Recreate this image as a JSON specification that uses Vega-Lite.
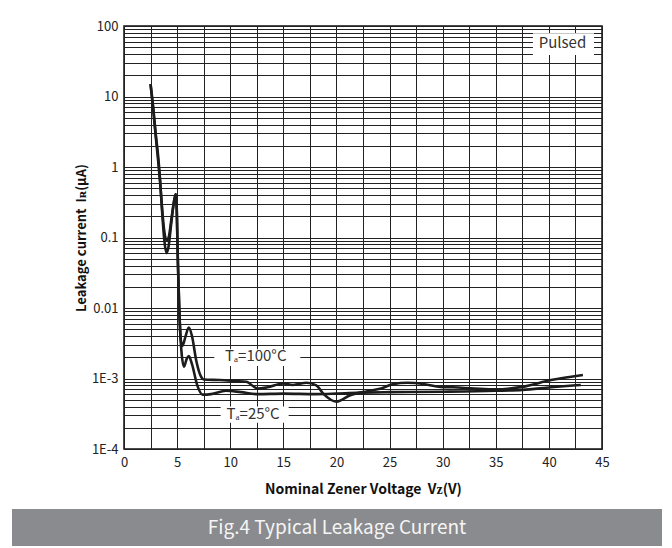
{
  "$schema": "https://vega.github.io/schema/vega-lite/v6.json",
  "padding": {"left": 12, "right": 10, "top": 19, "bottom": 0},
  "background": "white",
  "spacing": 12,
  "config": {"font": "Noto Sans CJK SC", "view": {"stroke": null}},
  "vconcat": [
    {
      "spacing": 0,
      "hconcat": [
        {
          "width": 62,
          "height": 10,
          "data": {"values": []},
          "mark": "point"
        },
        {
          "width": 478,
          "height": 423,
          "view": {"stroke": "#111111", "strokeWidth": 1.5},
          "encoding": {
            "x": {
              "field": "x", "type": "quantitative",
              "scale": {"domain": [0, 45], "nice": false, "zero": false},
              "title": "Nominal Zener Voltage\u00a0 Vᴢ(V)",
              "axis": {
                "values": [0, 2.5, 5, 7.5, 10, 12.5, 15, 17.5, 20, 22.5, 25, 27.5, 30, 32.5, 35, 37.5, 40, 42.5, 45],
                "labelExpr": "datum.value % 5 === 0 ? datum.label : ''",
                "labelOverlap": false, "labelFlush": false,
                "grid": true, "gridColor": "#222222", "gridWidth": 1,
                "ticks": false, "domain": false,
                "labelFontSize": 13, "labelColor": "#222222", "labelPadding": 7,
                "titleFontSize": 14, "titleFontWeight": "bold", "titleColor": "#111111", "titlePadding": 13
              }
            },
            "y": {
              "field": "y", "type": "quantitative",
              "scale": {"type": "log", "domain": [0.0001, 100], "nice": false},
              "title": "Leakage current\u00a0 Iʀ(μA)",
              "axis": {
                "values": [0.0001, 0.0002, 0.0003, 0.0004, 0.0005, 0.0006, 0.0007, 0.0008, 0.0009, 0.001, 0.002, 0.003, 0.004, 0.005, 0.006, 0.007, 0.008, 0.009, 0.01, 0.02, 0.03, 0.04, 0.05, 0.06, 0.07, 0.08, 0.09, 0.1, 0.2, 0.3, 0.4, 0.5, 0.6, 0.7, 0.8, 0.9, 1, 2, 3, 4, 5, 6, 7, 8, 9, 10, 20, 30, 40, 50, 60, 70, 80, 90, 100],
                "labelExpr": "datum.value == 100 ? '100' : datum.value == 10 ? '10' : datum.value == 1 ? '1' : datum.value == 0.1 ? '0.1' : datum.value == 0.01 ? '0.01' : datum.value == 0.001 ? '1E-3' : datum.value == 0.0001 ? '1E-4' : ''",
                "labelOverlap": false, "labelFlush": false,
                "grid": true, "gridColor": "#222222", "gridWidth": 1,
                "ticks": false, "domain": false,
                "labelFontSize": 13, "labelColor": "#222222", "labelPadding": 6,
                "titleFontSize": 13, "titleFontWeight": "bold", "titleColor": "#111111", "titlePadding": 3
              }
            }
          },
          "layer": [
            {
              "data": {"values": [
                {"x": 38.5, "x2": 44.25, "y": 78.8, "y2": 38.8},
                {"x": 8.5, "x2": 16.6, "y": 0.0026, "y2": 0.0015},
                {"x": 9.1, "x2": 15.5, "y": 0.0004, "y2": 0.000236}
              ]},
              "mark": {"type": "rect", "fill": "white", "stroke": null},
              "encoding": {
                "x2": {"field": "x2"},
                "y2": {"field": "y2"}
              }
            },
            {
              "data": {"values": [
                {"x": 41.28, "y": 58, "t": "Pulsed"},
                {"x": 12.4, "y": 0.00209, "t": "Tₐ=100°C"},
                {"x": 12.15, "y": 0.00031, "t": "Tₐ=25°C"}
              ]},
              "mark": {"type": "text", "fontSize": 15, "color": "#333333", "baseline": "middle", "align": "center"},
              "encoding": {"text": {"field": "t"}}
            },
            {
              "data": {"values": [
                {"s": "100", "x": 2.5, "y": 15},
                {"s": "100", "x": 2.75, "y": 6.5},
                {"s": "100", "x": 3.0, "y": 2.6},
                {"s": "100", "x": 3.2, "y": 1.3},
                {"s": "100", "x": 3.4, "y": 0.6},
                {"s": "100", "x": 3.6, "y": 0.24},
                {"s": "100", "x": 3.8, "y": 0.12},
                {"s": "100", "x": 4.0, "y": 0.092},
                {"s": "100", "x": 4.2, "y": 0.1},
                {"s": "100", "x": 4.5, "y": 0.2},
                {"s": "100", "x": 4.75, "y": 0.35},
                {"s": "100", "x": 4.87, "y": 0.41},
                {"s": "100", "x": 4.98, "y": 0.2},
                {"s": "100", "x": 5.08, "y": 0.04},
                {"s": "100", "x": 5.2, "y": 0.01},
                {"s": "100", "x": 5.35, "y": 0.0035},
                {"s": "100", "x": 5.5, "y": 0.0029},
                {"s": "100", "x": 5.8, "y": 0.004},
                {"s": "100", "x": 6.1, "y": 0.0053},
                {"s": "100", "x": 6.4, "y": 0.004},
                {"s": "100", "x": 6.8, "y": 0.0018},
                {"s": "100", "x": 7.2, "y": 0.0011},
                {"s": "100", "x": 7.5, "y": 0.00097},
                {"s": "100", "x": 9.0, "y": 0.00095},
                {"s": "100", "x": 10.5, "y": 0.00092},
                {"s": "100", "x": 11.5, "y": 0.0009},
                {"s": "100", "x": 12.6, "y": 0.00072},
                {"s": "100", "x": 13.5, "y": 0.00075},
                {"s": "100", "x": 15.0, "y": 0.00085},
                {"s": "100", "x": 15.9, "y": 0.00081},
                {"s": "100", "x": 17.2, "y": 0.00087},
                {"s": "100", "x": 18.1, "y": 0.0008},
                {"s": "100", "x": 18.8, "y": 0.0006},
                {"s": "100", "x": 20.0, "y": 0.00047},
                {"s": "100", "x": 21.3, "y": 0.00058},
                {"s": "100", "x": 22.9, "y": 0.00066},
                {"s": "100", "x": 24.2, "y": 0.00072},
                {"s": "100", "x": 25.3, "y": 0.00083},
                {"s": "100", "x": 26.7, "y": 0.00087},
                {"s": "100", "x": 28.3, "y": 0.00083},
                {"s": "100", "x": 29.8, "y": 0.00076},
                {"s": "100", "x": 31.0, "y": 0.00075},
                {"s": "100", "x": 33.0, "y": 0.00072},
                {"s": "100", "x": 35.0, "y": 0.0007},
                {"s": "100", "x": 37.5, "y": 0.00076},
                {"s": "100", "x": 40.2, "y": 0.00095},
                {"s": "100", "x": 43.2, "y": 0.00112},
                {"s": "25", "x": 2.5, "y": 15},
                {"s": "25", "x": 2.75, "y": 7},
                {"s": "25", "x": 3.0, "y": 2.8},
                {"s": "25", "x": 3.2, "y": 1.5},
                {"s": "25", "x": 3.4, "y": 0.65},
                {"s": "25", "x": 3.6, "y": 0.22},
                {"s": "25", "x": 3.8, "y": 0.09},
                {"s": "25", "x": 4.0, "y": 0.06},
                {"s": "25", "x": 4.2, "y": 0.075},
                {"s": "25", "x": 4.45, "y": 0.16},
                {"s": "25", "x": 4.7, "y": 0.32},
                {"s": "25", "x": 4.87, "y": 0.41},
                {"s": "25", "x": 4.97, "y": 0.25},
                {"s": "25", "x": 5.05, "y": 0.06},
                {"s": "25", "x": 5.2, "y": 0.01},
                {"s": "25", "x": 5.4, "y": 0.0025},
                {"s": "25", "x": 5.65, "y": 0.00147},
                {"s": "25", "x": 5.9, "y": 0.0019},
                {"s": "25", "x": 6.1, "y": 0.00208},
                {"s": "25", "x": 6.4, "y": 0.0016},
                {"s": "25", "x": 6.9, "y": 0.0008},
                {"s": "25", "x": 7.4, "y": 0.00059},
                {"s": "25", "x": 8.2, "y": 0.0006},
                {"s": "25", "x": 9.6, "y": 0.00067},
                {"s": "25", "x": 11.0, "y": 0.00064},
                {"s": "25", "x": 12.6, "y": 0.0006},
                {"s": "25", "x": 15.0, "y": 0.00061},
                {"s": "25", "x": 18.0, "y": 0.0006},
                {"s": "25", "x": 20.0, "y": 0.00061},
                {"s": "25", "x": 22.5, "y": 0.00063},
                {"s": "25", "x": 25.0, "y": 0.00064},
                {"s": "25", "x": 30.0, "y": 0.00065},
                {"s": "25", "x": 35.0, "y": 0.00067},
                {"s": "25", "x": 37.5, "y": 0.00069},
                {"s": "25", "x": 40.2, "y": 0.00075},
                {"s": "25", "x": 43.0, "y": 0.00081}
              ]},
              "mark": {"type": "line", "interpolate": "monotone", "stroke": "#1c1c1c", "strokeWidth": 2.6},
              "encoding": {"detail": {"field": "s", "type": "nominal"}}
            }
          ]
        }
      ]
    },
    {
      "width": 650,
      "height": 37,
      "view": {"fill": "#8a8b8e", "stroke": null},
      "data": {"values": [{"t": "Fig.4 Typical Leakage Current"}]},
      "mark": {"type": "text", "fontSize": 19, "color": "#f5f5f5", "baseline": "middle", "align": "center"},
      "encoding": {"text": {"field": "t", "type": "nominal"}}
    }
  ]
}
